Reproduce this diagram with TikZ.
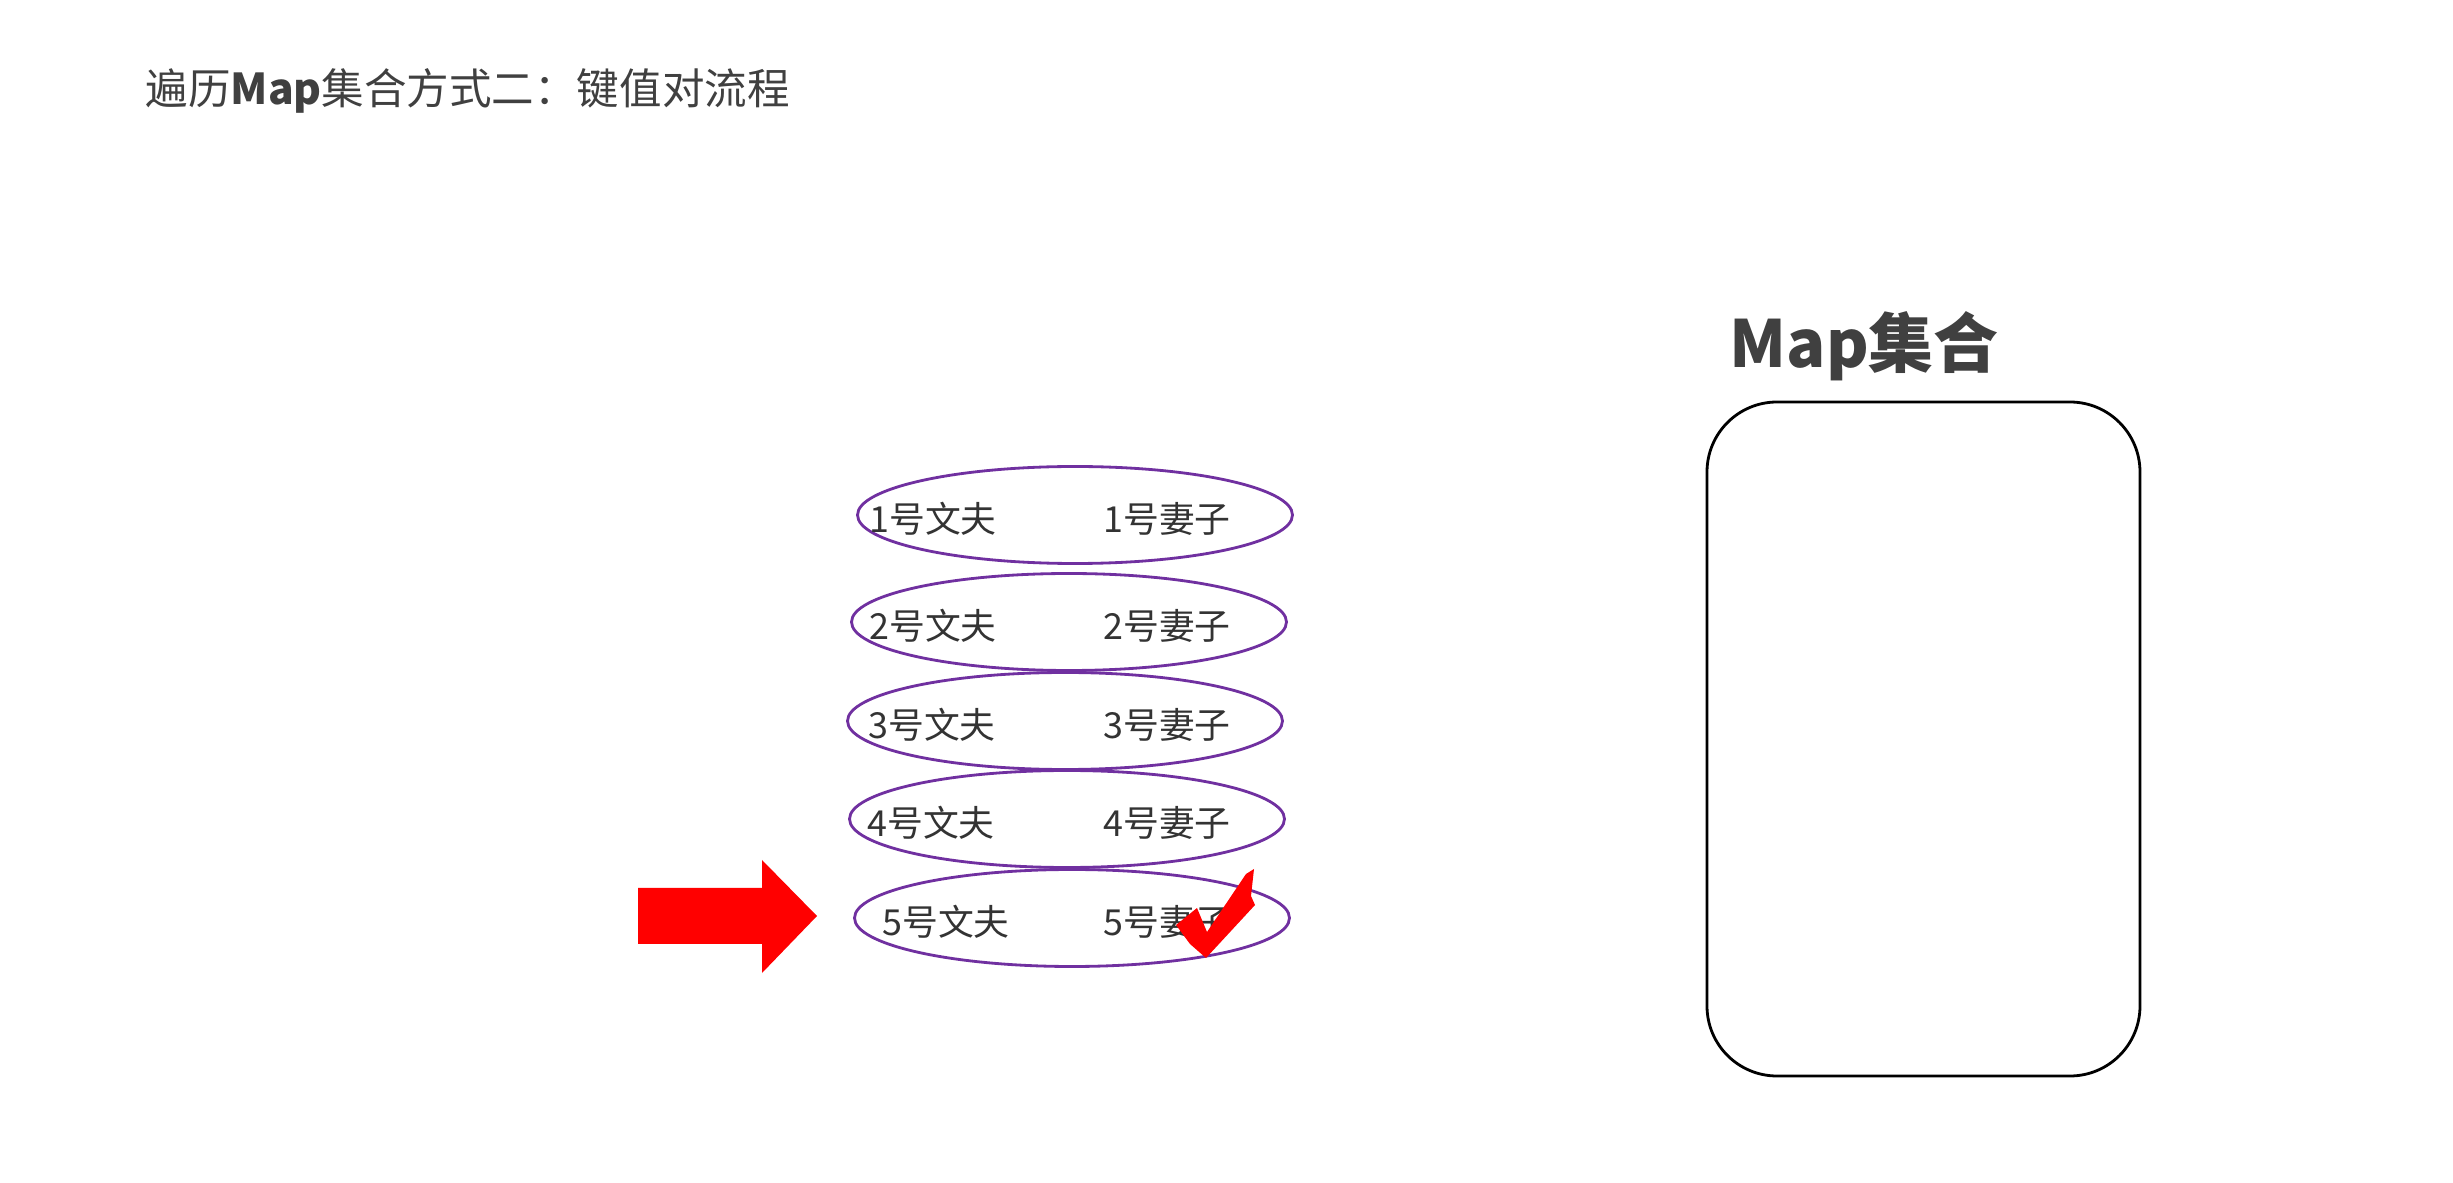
\documentclass[tikz,border=0pt]{standalone}
\usepackage{fontspec}
\setmainfont{Noto Sans CJK SC}
\usetikzlibrary{shapes.geometric}
\definecolor{pairpurple}{HTML}{7030A0}
\definecolor{hitred}{HTML}{FF0000}
\definecolor{inkgray}{HTML}{404040}
\tikzset{
  pairell/.style={ellipse, draw=pairpurple, line width=0.8pt,
    minimum width=4.35cm, minimum height=0.97cm, inner sep=0pt},
  pairtxt/.style={text=black!80, font=\fontsize{10.2}{12}\selectfont, inner sep=0pt},
  headtxt/.style={anchor=west, text=inkgray, inner sep=0pt}
}
\begin{document}
\begin{tikzpicture}[x=0.1mm, y=-0.1mm]
    \useasboundingbox (0,0) rectangle (2453,1183);
    \node [headtxt, font=\fontsize{12.1}{14}\selectfont] (title) at (145,91)
        {遍历\textbf{Map}集合方式二：键值对流程};
    % the key/value pairs
    \foreach \i/\ex/\ey/\hx in {1/1075/515/933, 2/1069/622/933, 3/1065/721/932,
                                4/1067/819/931, 5/1072/918/946}
        {\node [pairell] (e\i) at (\ex,\ey) {};
        \node [pairtxt] (h\i) at (\hx,\ey+4) {\i 号文夫};
        \node [pairtxt] (w\i) at (1167,\ey+4) {\i 号妻子};}
    % pointer to the current entry
    \fill [hitred] (638,888) -- (762,888) -- (762,860) -- (817,916)
        -- (762,973) -- (762,944) -- (638,944) -- cycle;
    \fill [hitred] (1176,925) -- (1197,908) -- (1207,932) -- (1246,874)
        -- (1254,869) -- (1251,896) -- (1255,905) -- (1206,958)
        -- (1190,944) -- cycle;
    % the map
    \node [headtxt, font=\fontsize{18.5}{22}\selectfont\bfseries] (maplabel) at (1729,346) {Map集合};
    \node [draw, line width=0.8pt, rounded corners=0.7cm, minimum width=4.33cm,
        minimum height=6.74cm] (mapbox) at (1923.5,739) {};
\end{tikzpicture}
\end{document}
